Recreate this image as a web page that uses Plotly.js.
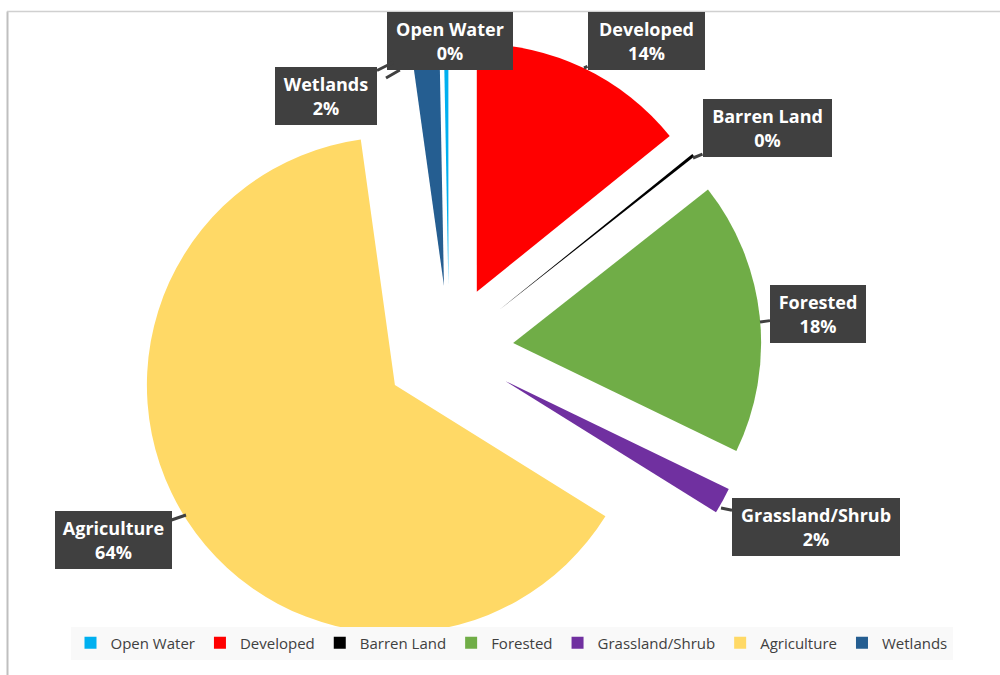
<!DOCTYPE html>
<html>
<head>
<meta charset="utf-8">
<script src="https://cdn.plot.ly/plotly-3.0.1.min.js"></script>
<style>html,body{margin:0;padding:0;background:#fff;}#chart{width:1000px;height:675px;}</style>
</head>
<body>
<div id="chart"></div>
<script>
// ---- data ----
var categories = ["Open Water", "Developed", "Barren Land", "Forested", "Grassland/Shrub", "Agriculture", "Wetlands"];
var values = [0.3, 14.2, 0.2, 17.8, 1.7, 64.0, 1.9];
var colors = ["#00B0F0", "#FF0000", "#000000", "#70AD47", "#7030A0", "#FFD966", "#255E91"];

// ---- callout label placement (pixels: box centre, box size, pointer tip) ----
var boxCenters = [[450, 41], [646, 41], [767, 128], [818, 314], [816, 527], [113, 540], [326, 96]];
var boxWidths = [126, 117, 129, 96, 168, 117, 102];
var pointerTips = [[386, 78], [584, 68], [693, 158], [760, 322], [721, 508], [186, 515], [394, 62]];

var W = 1000, H = 675;
var total = values.reduce(function (a, b) { return a + b; }, 0);

var trace = {
  type: "pie",
  labels: categories,
  values: values,
  sort: false,
  direction: "clockwise",
  rotation: -values[0] / total * 360,
  pull: values.map(function () { return 0.26; }),
  marker: { colors: colors, line: { width: 0 } },
  textinfo: "none",
  hoverinfo: "label+percent",
  domain: { x: [0.1365, 0.7615], y: [1 - 662.5 / H, 1 - 37.5 / H] }
};

var annotations = categories.map(function (c, i) {
  var pct = Math.round(values[i] / total * 100) + "%";
  var tip = pointerTips[i], bc = boxCenters[i];
  return {
    xref: "paper", yref: "paper",
    x: tip[0] / W, y: 1 - tip[1] / H,
    ax: bc[0] - tip[0], ay: bc[1] - tip[1],
    showarrow: true, arrowhead: 0, arrowwidth: 3, arrowcolor: "#404040", standoff: 0,
    text: "<b>" + c + "<br>" + pct + "</b>",
    font: { family: "Open Sans, sans-serif", size: 18, color: "#ffffff" },
    bgcolor: "#404040",
    borderpad: 0, borderwidth: 0,
    width: boxWidths[i], height: 58,
    align: "center", valign: "middle"
  };
});

var layout = {
  width: W, height: H,
  margin: { l: 0, r: 0, t: 0, b: 0 },
  paper_bgcolor: "#ffffff",
  showlegend: true,
  legend: {
    orientation: "h", x: 0.5115, xanchor: "center", y: 1 - 643 / H, yanchor: "middle",
    bgcolor: "#f9f9f9",
    font: { family: "Open Sans, sans-serif", size: 15, color: "#404040" },
    traceorder: "normal"
  },
  annotations: annotations,
  shapes: [
    { type: "line", xref: "paper", yref: "paper", x0: 7.5 / W, x1: 7.5 / W, y0: 0, y1: 1 - 11.5 / H, line: { color: "#bfbfbf", width: 2 } },
    { type: "line", xref: "paper", yref: "paper", x0: 7 / W, x1: 1, y0: 1 - 11.5 / H, y1: 1 - 11.5 / H, line: { color: "#d0d0d0", width: 1.5 } }
  ]
};

Plotly.newPlot("chart", [trace], layout, { displayModeBar: false, staticPlot: true });
</script>
</body>
</html>
